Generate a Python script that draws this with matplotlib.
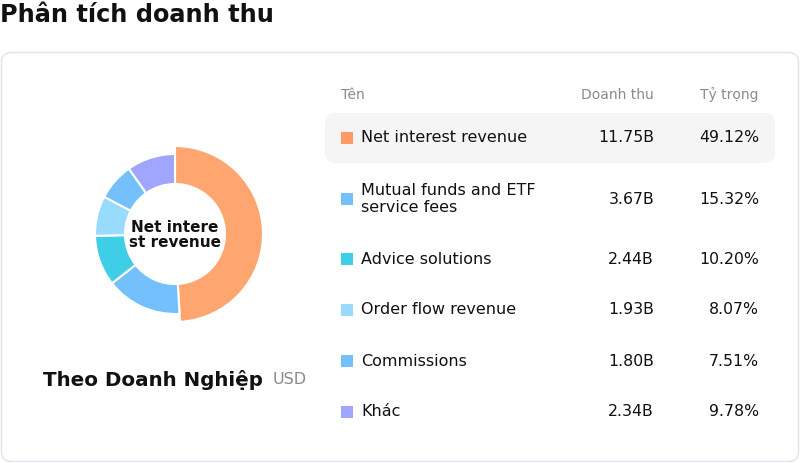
import matplotlib
matplotlib.use("Agg")
import matplotlib.pyplot as plt
from matplotlib.patches import FancyBboxPatch, Rectangle

plt.rcParams['font.family'] = ['DejaVu Sans']

# ---- data ----
names = ["Net interest revenue", "Mutual funds and ETF\nservice fees", "Advice solutions",
         "Order flow revenue", "Commissions", "Khác"]
values = [11.75, 3.67, 2.44, 1.93, 1.80, 2.34]
value_labels = ["11.75B", "3.67B", "2.44B", "1.93B", "1.80B", "2.34B"]
share_labels = ["49.12%", "15.32%", "10.20%", "8.07%", "7.51%", "9.78%"]
colors = ["#FFA670", "#74C0FC", "#3ECFE6", "#99DBFC", "#74C0FC", "#A0A6FE"]
marker_colors = ["#FF9A66", "#74C0FC", "#3ECFE6", "#99DBFC", "#74C0FC", "#A0A6FE"]

W, H = 800, 463
fig = plt.figure(figsize=(W / 100, H / 100), dpi=100)
bg = fig.add_axes([0, 0, 1, 1])
bg.set_xlim(0, W)
bg.set_ylim(H, 0)
bg.axis("off")

# title
bg.text(0, 15, "Phân tích doanh thu", fontsize=17.3, fontweight="bold", va="center", ha="left", color="#111111")

# card
card = FancyBboxPatch((1.5, 52.5), 797, 409, boxstyle="round,pad=0,rounding_size=10",
                      facecolor="white", edgecolor="#E2E2EC", linewidth=1)
bg.add_patch(card)

# highlighted row
hl = FancyBboxPatch((325, 113), 450, 50, boxstyle="round,pad=0,rounding_size=10",
                    facecolor="#F5F5F5", edgecolor="none")
bg.add_patch(hl)

# header
hdr_col = "#8A8A8A"
bg.text(341, 95, "Tên", fontsize=10, color=hdr_col, va="center", ha="left")
bg.text(654, 95, "Doanh thu", fontsize=10, color=hdr_col, va="center", ha="right")
bg.text(759, 95, "Tỷ trọng", fontsize=10, color=hdr_col, va="center", ha="right")

row_y = [138, 199, 259, 310, 361, 412]
for i, (n, v, s) in enumerate(zip(names, value_labels, share_labels)):
    y = row_y[i]
    bg.add_patch(Rectangle((341, y - 6), 12, 12, facecolor=marker_colors[i], edgecolor="none"))
    bg.text(361, y, n, fontsize=11.5, color="#111111", va="center", ha="left", linespacing=1.1)
    bg.text(654, y, v, fontsize=11.3, color="#111111", va="center", ha="right")
    bg.text(759, y, s, fontsize=11.3, color="#111111", va="center", ha="right")

# bottom-left caption
bg.text(43, 380, "Theo Doanh Nghiệp", fontsize=14.3, fontweight="bold", color="#111111",
        va="center", ha="left")
bg.text(273, 380, "USD", fontsize=11.5, color="#8A8A8A", va="center", ha="left")

# donut
cx, cy, half = 175, 234, 100
pax = fig.add_axes([(cx - half) / W, (H - cy - half) / H, 2 * half / W, 2 * half / H])
wedges, _ = pax.pie(values, colors=colors, startangle=90, counterclock=False, radius=80,
                    wedgeprops=dict(width=30, edgecolor="white", linewidth=1.5))
wedges[0].set_radius(88)
wedges[0].set_width(38)
pax.set_xlim(-half, half)
pax.set_ylim(-half, half)
pax.set_aspect("equal")
pax.axis("off")
pax.text(0, -1, "Net intere\nst revenue", fontsize=11, fontweight="bold", ha="center", va="center",
         color="#111111", linespacing=0.95)

fig.savefig("out.png", dpi=100)
